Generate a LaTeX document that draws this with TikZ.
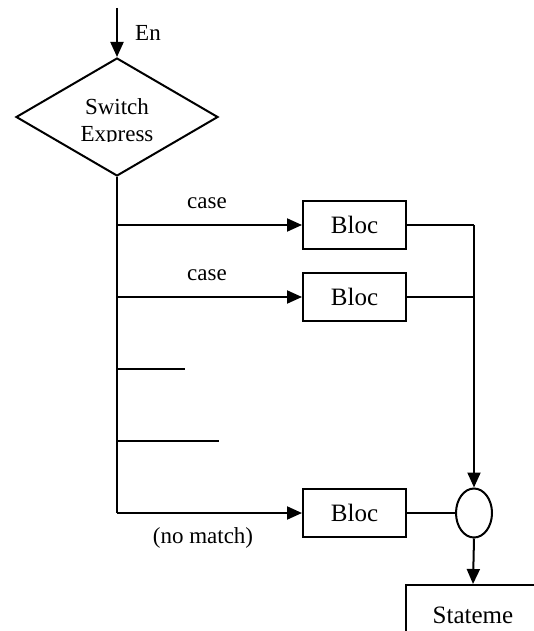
\documentclass[tikz,border=0pt]{standalone}
\usepackage{fontspec}
\setmainfont{Liberation Serif}
\usetikzlibrary{shapes.geometric,arrows.meta}
\begin{document}
\begin{tikzpicture}[x=1pt,y=-1pt,
  line/.style={line width=2pt},
  flow/.style={line, -{Triangle[length=15pt,width=13pt]}},
  blocbox/.style={draw, line width=2pt, minimum width=103pt, minimum height=48pt,
    inner sep=0pt, font=\fontsize{25}{28}\selectfont},
  lbl/.style={font=\fontsize{23}{27}\selectfont, inner sep=0pt},
]
\useasboundingbox (0,0) rectangle (534,631);
\clip (0,0) rectangle (534,631);

% entry and switch decision
\coordinate (start) at (117,8);
\node[diamond, draw, line width=2pt, minimum width=202pt, minimum height=118pt,
      inner sep=0pt] (sw) at (117,117) {};
\node[lbl, anchor=base] (swl1) at (117,115) {Switch};
\begin{scope}
  \clip (40,60) rectangle (200,142);
  \node[lbl, anchor=base] (swl2) at (117,142) {Express};
\end{scope}
\draw[flow] (start) -- (sw.north);
\node[lbl] (en) at (148,33) {En};

% case blocks, merge point and following statement
\node[blocbox] (b1) at (354.5,225) {Bloc\hspace{12pt}};
\node[blocbox] (b2) at (354.5,297) {Bloc\hspace{12pt}};
\node[blocbox] (b3) at (354.5,513) {Bloc\hspace{12pt}};
\node[ellipse, draw, line width=2pt, minimum width=36pt, minimum height=49pt,
      inner sep=0pt] (m) at (474,513) {};
\node[draw, line width=2pt, minimum width=134pt, minimum height=60pt, inner sep=0pt,
      font=\fontsize{25}{28}\selectfont] (stmt) at (473,615) {Stateme\hspace{12pt}};

% trunk below the decision
\coordinate (t1) at (117,225);
\coordinate (t2) at (117,297);
\coordinate (t3) at (117,369);
\coordinate (t4) at (117,441);
\coordinate (t5) at (117,513);
\coordinate (s3) at (185,369);
\coordinate (s4) at (219,441);
\draw[line] (sw.south) -- (t5);

\draw[flow] (t1) -- (b1.west);
\draw[flow] (t2) -- (b2.west);
\draw[flow] (t5) -- (b3.west);
\draw[line] (t3) -- (s3);
\draw[line] (t4) -- (s4);

\node[lbl] (c1) at (207,203) {case};
\node[lbl] (c2) at (207,275) {case};
\node[lbl] (nm) at (203,538) {(no match)};

% collector on the right
\coordinate (k1) at (474,225);
\draw[line] (b1.east) -- (k1);
\draw[line] (b2.east) -- (b2.east -| k1);
\draw[flow] (k1) -- (m.north);
\draw[line width=1.4pt] (b3.east) -- (m.west);
\draw[flow] (m.south) -- (stmt.north);
\end{tikzpicture}
\end{document}
